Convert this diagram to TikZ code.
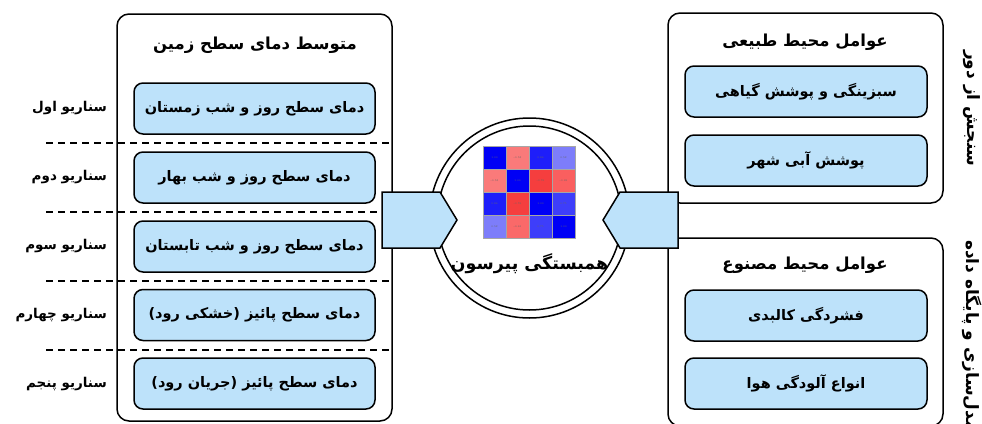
\documentclass[tikz,border=0pt]{standalone}
\usepackage{fontspec}
\TeXXeTstate=1
\newfontfamily\fa[Script=Arabic]{DejaVu Sans}
\definecolor{boxblue}{RGB}{189,226,250}
\newcommand{\rtl}[1]{\beginR #1\endR}
\begin{document}
\begin{tikzpicture}[x=1pt,y=-1pt,
  panel/.style={draw=black, line width=1.5pt, rounded corners=12pt, fill=white, inner sep=0pt},
  item/.style={draw=black, line width=1.5pt, rounded corners=9pt, fill=boxblue, minimum width=241pt, minimum height=51pt, inner sep=0pt, font=\fa\bfseries\fontsize{14.5}{17}\selectfont},
  ttl/.style={inner sep=0pt, font=\fa\bfseries\fontsize{16.5}{19}\selectfont},
  scen/.style={inner sep=0pt, anchor=east, font=\fa\bfseries\fontsize{13.5}{16}\selectfont},
  side/.style={inner sep=0pt, rotate=-90, anchor=west, font=\fa\bfseries\fontsize{17}{19}\selectfont},
  sep/.style={dash pattern=on 7pt off 5pt, line width=1.5pt},
  pent/.style={draw=black, line width=1.5pt, fill=boxblue, line join=miter},
  cell/.style={draw=gray!70, line width=0.4pt, minimum size=23pt, inner sep=0pt, font=\fontsize{2.6}{3}\selectfont, text=black!60}]
\useasboundingbox (0,0) rectangle (982,423);
\clip (0,0) rectangle (982,423);

% left panel
\node[panel, minimum width=275pt, minimum height=407pt] (lp) at (254.5,217.5) {};
\node[ttl] (lt) at (255,45) {\rtl{متوسط دمای سطح زمین}};
\node[item] (b1) at (254.5,108.5) {\rtl{دمای سطح روز و شب زمستان}};
\node[item] (b2) at (254.5,177.5) {\rtl{دمای سطح روز و شب بهار}};
\node[item] (b3) at (254.5,246.5) {\rtl{دمای سطح روز و شب تابستان}};
\node[item] (b4) at (254.5,315) {\rtl{دمای سطح پائیز (خشکی رود)}};
\node[item] (b5) at (254.5,383.5) {\rtl{دمای سطح پائیز (جریان رود)}};

\coordinate (d1a) at (46,143); \coordinate (d1b) at (392,143);
\coordinate (d2a) at (46,212); \coordinate (d2b) at (392,212);
\coordinate (d3a) at (46,281); \coordinate (d3b) at (392,281);
\coordinate (d4a) at (46,350); \coordinate (d4b) at (392,350);
\draw[sep] (d1a) -- (d1b);
\draw[sep] (d2a) -- (d2b);
\draw[sep] (d3a) -- (d3b);
\draw[sep] (d4a) -- (d4b);

\node[scen] (s1) at (107,108) {\rtl{سناریو اول}};
\node[scen] (s2) at (107,177) {\rtl{سناریو دوم}};
\node[scen] (s3) at (107,246) {\rtl{سناریو سوم}};
\node[scen] (s4) at (107,315) {\rtl{سناریو چهارم}};
\node[scen] (s5) at (107,384) {\rtl{سناریو پنجم}};

% right panels
\node[panel, minimum width=275pt, minimum height=190pt] (rp1) at (805.5,108) {};
\node[ttl] (rt1) at (805,42) {\rtl{عوامل محیط طبیعی}};
\node[item, minimum width=242pt] (r1) at (806,91.5) {\rtl{سبزینگی و پوشش گیاهی}};
\node[item, minimum width=242pt] (r2) at (806,160.5) {\rtl{پوشش آبی شهر}};

\node[panel, minimum width=275pt, minimum height=188pt] (rp2) at (805.5,332) {};
\node[ttl] (rt2) at (805,265) {\rtl{عوامل محیط مصنوع}};
\node[item, minimum width=242pt] (r3) at (806,315.5) {\rtl{فشردگی کالبدی}};
\node[item, minimum width=242pt] (r4) at (806,383.5) {\rtl{انواع آلودگی هوا}};

\node[side] (v1) at (972,50) {\rtl{سنجش از دور}};
\node[side] (v2) at (972,240) {\rtl{مدل‌سازی و پایگاه داده}};

% centre circle
\node[circle, draw=black, line width=1.5pt, fill=white, minimum size=200pt, inner sep=0pt] (co) at (529.5,218) {};
\node[circle, draw=black, line width=1.5pt, fill=white, minimum size=184pt, inner sep=0pt] (ci) at (529.5,218) {};

\definecolor{p100}{RGB}{0,0,245}
\definecolor{p86}{RGB}{30,30,250}
\definecolor{p75}{RGB}{62,62,250}
\definecolor{p52}{RGB}{125,125,250}
\definecolor{n53}{RGB}{250,122,122}
\definecolor{n61}{RGB}{250,105,105}
\definecolor{n69}{RGB}{250,95,95}
\definecolor{n76}{RGB}{245,62,62}
\foreach \r/\c/\col/\v in {
 1/1/p100/1.00, 1/2/n53/-0.53, 1/3/p86/0.86, 1/4/p52/0.52,
 2/1/n53/-0.53, 2/2/p100/1.00, 2/3/n76/-0.76, 2/4/n69/-0.69,
 3/1/p86/0.86, 3/2/n76/-0.76, 3/3/p100/1.00, 3/4/p75/0.75,
 4/1/p52/0.52, 4/2/n61/-0.61, 4/3/p75/0.75, 4/4/p100/1.00}{
  \node[cell, fill=\col] (h\r\c) at ({483+23*\c-11.5},{146+23*\r-11.5}) {\v};
}
\draw[gray!70, line width=0.6pt] (h11.north west) rectangle (h44.south east);

\node[inner sep=0pt, font=\fa\bfseries\fontsize{17.5}{20}\selectfont] (pl) at (529.5,264) {\rtl{همبستگی پیرسون}};

% arrow shapes
\coordinate (la1) at (382,192); \coordinate (la2) at (440,192); \coordinate (la3) at (457,220);
\coordinate (la4) at (440,248); \coordinate (la5) at (382,248);
\draw[pent] (la1) -- (la2) -- (la3) -- (la4) -- (la5) -- cycle;
\coordinate (ra1) at (678,192); \coordinate (ra2) at (620,192); \coordinate (ra3) at (603,220);
\coordinate (ra4) at (620,248); \coordinate (ra5) at (678,248);
\draw[pent] (ra1) -- (ra2) -- (ra3) -- (ra4) -- (ra5) -- cycle;
\end{tikzpicture}
\end{document}
